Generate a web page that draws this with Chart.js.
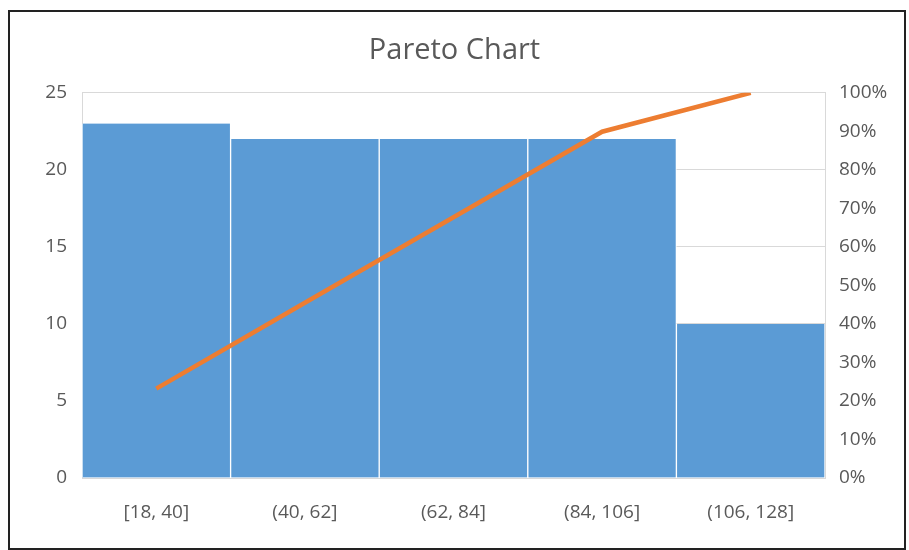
<!DOCTYPE html>
<html>
<head>
<meta charset="utf-8">
<script src="https://cdn.jsdelivr.net/npm/chart.js@4.4.1/dist/chart.umd.min.js"></script>
<style>
  body { margin: 0; background: #fff; }
  #wrap { position: relative; width: 909px; height: 550px; }
  #frame { position: absolute; left: 8px; top: 10px; width: 894px; height: 536px; border: 2px solid #222; pointer-events: none; }
</style>
</head>
<body>
<div id="wrap">
  <canvas id="pareto" width="909" height="550"></canvas>
  <div id="frame"></div>
</div>
<script>
const bins = ["[18, 40]", "(40, 62]", "(62, 84]", "(84, 106]", "(106, 128]"];
const counts = [23, 22, 22, 22, 10];
const cumulativePct = [23.2, 45.5, 67.7, 89.9, 100];
const countTicks = [0, 5, 10, 15, 20, 25];
const pctTicks = [0, 10, 20, 30, 40, 50, 60, 70, 80, 90, 100];

const tickFont = { family: "'Open Sans', 'Noto Sans', sans-serif", size: 19 };
const tickColor = "#595959";

const ctx = document.getElementById('pareto');
new Chart(ctx, {
    data: {
        labels: bins,
        datasets: [{
            type: 'line',
            data: cumulativePct,
            yAxisID: 'pct',
            borderColor: "#ED7D31",
            borderWidth: 4.5,
            pointRadius: 0,
            tension: 0,
            order: 0
        }, {
            type: 'bar',
            data: counts,
            yAxisID: 'count',
            backgroundColor: "#5B9BD5",
            borderColor: "#ffffff",
            borderWidth: { left: 1, right: 1, top: 0, bottom: 0 },
            borderSkipped: false,
            barPercentage: 1,
            categoryPercentage: 1,
            order: 1
        }]
    },
    options: {
        responsive: false,
        animation: false,
        layout: { padding: { top: 0, left: 0, right: 0, bottom: 0 } },
        plugins: {
            legend: { display: false },
            tooltip: { enabled: false },
            title: {
                display: true,
                text: 'Pareto Chart',
                color: "#595959",
                font: { family: "'Open Sans', 'Noto Sans', sans-serif", size: 29, weight: 'normal' },
                padding: { top: 33, bottom: 25 }
            }
        },
        scales: {
            x: {
                grid: { display: false },
                border: { display: false },
                ticks: { color: tickColor, font: tickFont, padding: 15 },
                afterFit: s => { s.height = 72; }
            },
            count: {
                position: 'left',
                min: 0, max: 25,
                afterBuildTicks: s => { s.ticks = countTicks.map(v => ({ value: v })); },
                grid: { color: "#d9d9d9", drawTicks: false },
                border: { display: true, color: "#d9d9d9" },
                ticks: { color: tickColor, font: tickFont, padding: 15 },
                afterFit: s => { s.width = 82; }
            },
            pct: {
                position: 'right',
                min: 0, max: 100,
                afterBuildTicks: s => { s.ticks = pctTicks.map(v => ({ value: v })); },
                grid: { display: false, drawTicks: false },
                border: { display: true, color: "#d9d9d9" },
                ticks: { color: tickColor, font: tickFont, padding: 14, callback: v => v + '%' },
                afterFit: s => { s.width = 84; }
            }
        }
    }
});
</script>
</body>
</html>
